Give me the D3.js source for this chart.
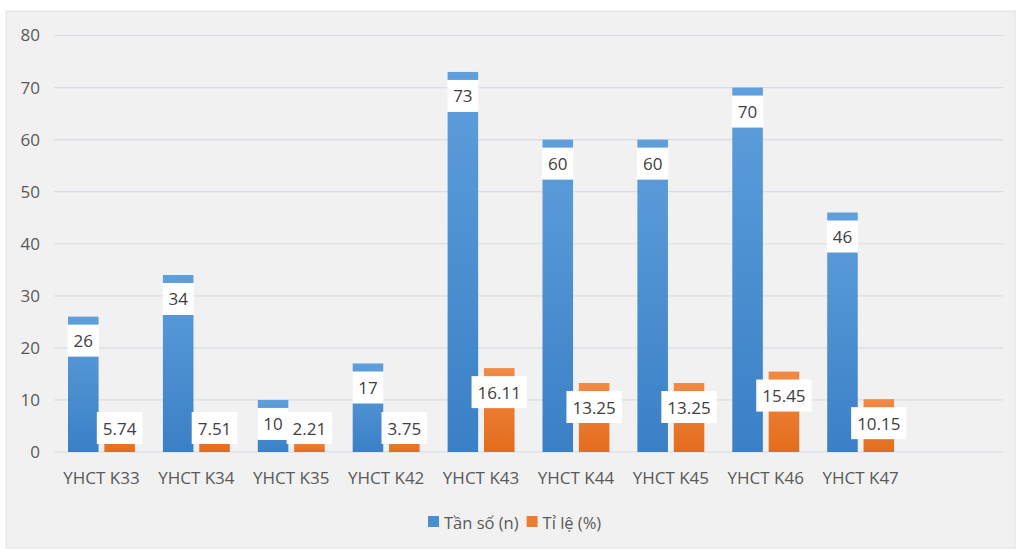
<!DOCTYPE html>
<html>
<head>
<meta charset="utf-8">
<script src="https://cdn.jsdelivr.net/npm/d3@7"></script>
<style>
  body { margin: 0; background: #fff; }
  text { font-family: "Open Sans", "Noto Sans", sans-serif; }
  .tick_label { fill: #595959; font-size: 17px; }
  .data_label { fill: #404040; font-size: 17px; }
  .legend_label { fill: #595959; font-size: 16.5px; }
</style>
</head>
<body>
<div id="chart"></div>
<script>
// data
var categories = ["YHCT K33", "YHCT K34", "YHCT K35", "YHCT K42", "YHCT K43", "YHCT K44", "YHCT K45", "YHCT K46", "YHCT K47"];
var seriesNames = ["Tần số (n)", "Tỉ lệ (%)"];
var freq = [26, 34, 10, 17, 73, 60, 60, 70, 46];
var rate = [5.74, 7.51, 2.21, 3.75, 16.11, 13.25, 13.25, 15.45, 10.15];
var yTicks = [0, 10, 20, 30, 40, 50, 60, 70, 80];

var W = 1016, H = 549;
var margin = {top: 35.5, bottom: 97, left: 54, right: 13};
var width = W - margin.left - margin.right;
var height = H - margin.top - margin.bottom;

var svg = d3.select("#chart")
            .append("svg")
            .attr("width", W)
            .attr("height", H);

// grey chart background
svg.append("rect")
   .attr("x", 6).attr("y", 11)
   .attr("width", W - 6).attr("height", H - 12)
   .attr("fill", "#f1f1f1")
   .attr("stroke", "#e2e2e2");

var defs = svg.append("defs");
var blueGrad = defs.append("linearGradient").attr("id", "blueGrad")
                   .attr("x1", 0).attr("y1", 0).attr("x2", 0).attr("y2", 1);
blueGrad.append("stop").attr("offset", "0%").attr("stop-color", "#5e9fdc");
blueGrad.append("stop").attr("offset", "100%").attr("stop-color", "#3a80c6");
var orangeGrad = defs.append("linearGradient").attr("id", "orangeGrad")
                   .attr("x1", 0).attr("y1", 0).attr("x2", 0).attr("y2", 1);
orangeGrad.append("stop").attr("offset", "0%").attr("stop-color", "#f08a45");
orangeGrad.append("stop").attr("offset", "100%").attr("stop-color", "#e46c1c");
var fills = ["url(#blueGrad)", "url(#orangeGrad)"];
var legendColors = ["#4a8fd2", "#ee7d34"];

var g = svg.append("g")
           .attr("transform", "translate(" + margin.left + "," + margin.top + ")");

// scales (one empty slot left at the right end, like the original)
var slot = width / (categories.length + 1);
var xScale = d3.scaleBand()
               .domain(categories)
               .range([0, slot * categories.length]);

var x1 = d3.scaleBand()
           .domain(seriesNames)
           .range([14, slot - 14])
           .paddingInner(0.16);

var yScale = d3.scaleLinear()
               .domain([0, 80])
               .range([height, 0]);

// gridlines
g.selectAll(".grid")
 .data(yTicks)
 .enter().append("line")
 .attr("x1", 0).attr("x2", width)
 .attr("y1", function(d) { return yScale(d); })
 .attr("y2", function(d) { return yScale(d); })
 .attr("stroke", "#d9dce6")
 .attr("stroke-width", 1.2);

// y axis
var yAxis = d3.axisLeft(yScale).tickValues(yTicks).tickSize(0).tickPadding(14);
var ya = g.append("g").call(yAxis);
ya.select(".domain").remove();
ya.selectAll("text").attr("class", "tick_label").attr("font-size", null).attr("font-family", null);

// x axis
var xAxis = d3.axisBottom(xScale).tickSize(0).tickPadding(20);
var xa = g.append("g").attr("transform", "translate(0," + height + ")").call(xAxis);
xa.select(".domain").remove();
xa.selectAll("text").attr("class", "tick_label").attr("font-size", null).attr("font-family", null);

// bars
var rows = categories.map(function(c, i) {
  return {cat: c, vals: [{s: 0, v: freq[i], t: String(freq[i])}, {s: 1, v: rate[i], t: rate[i].toFixed(2)}]};
});

var groups = g.selectAll(".group")
              .data(rows)
              .enter().append("g")
              .attr("transform", function(d) { return "translate(" + xScale(d.cat) + ",0)"; });

var bars = groups.selectAll(".bar")
                 .data(function(d) { return d.vals; })
                 .enter().append("g");

bars.append("rect")
    .attr("x", function(d) { return x1(seriesNames[d.s]); })
    .attr("y", function(d) { return yScale(d.v); })
    .attr("width", x1.bandwidth())
    .attr("height", function(d) { return height - yScale(d.v); })
    .attr("fill", function(d) { return fills[d.s]; });

// data labels (white boxes, inside end)
bars.each(function(d) {
  var sel = d3.select(this);
  var cx = x1(seriesNames[d.s]) + x1.bandwidth() / 2;
  var cy = Math.min(yScale(d.v) + 24, height - 24);
  var txt = sel.append("text")
               .attr("class", "data_label")
               .attr("x", cx).attr("y", cy)
               .attr("text-anchor", "middle")
               .attr("dominant-baseline", "central")
               .text(d.t);
  var bw = txt.node().getComputedTextLength() + 12;
  sel.insert("rect", "text")
     .attr("x", cx - bw / 2).attr("y", cy - 16)
     .attr("width", bw).attr("height", 32)
     .attr("fill", "#ffffff");
});

// legend
var legend = svg.append("g").attr("transform", "translate(0,522)");
var lx = 428;
seriesNames.forEach(function(name, i) {
  legend.append("rect")
        .attr("x", lx).attr("y", -6)
        .attr("width", 11).attr("height", 11)
        .attr("fill", legendColors[i]);
  var t = legend.append("text")
        .attr("class", "legend_label")
        .attr("x", lx + 16).attr("y", 0)
        .attr("dominant-baseline", "central")
        .text(name);
  lx += 16 + t.node().getComputedTextLength() + 8;
});
</script>
</body>
</html>
